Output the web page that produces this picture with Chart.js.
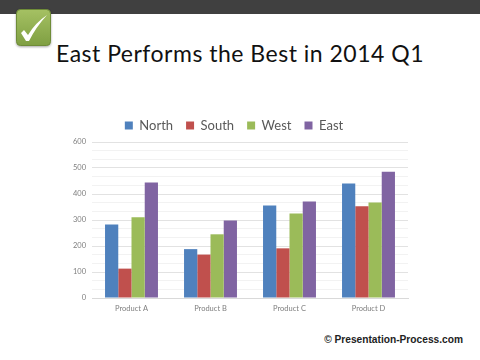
<!DOCTYPE html>
<html>
<head>
<meta charset="utf-8">
<style>
  html, body { margin: 0; padding: 0; background: #fff; }
  body { position: relative; width: 480px; height: 360px; overflow: hidden; }
  #topbar { position: absolute; left: 0; top: 0; width: 480px; height: 14px; background: #404040; }
  #check { position: absolute; left: 16px; top: 9px; width: 35px; height: 37px; filter: drop-shadow(0 1px 1px rgba(0,0,0,0.35)); }
  #title { position: absolute; left: 0; top: 39px; width: 480px; text-align: center; font: 23px Lato, sans-serif; color: #111; letter-spacing: 0.5px; white-space: nowrap; }
  #credit { position: absolute; right: 17px; top: 334px; font: bold 10.2px "Liberation Sans", sans-serif; color: #222; white-space: nowrap; }
  #wrap { position: absolute; left: 60px; top: 106px; width: 360px; height: 216px; }
</style>
</head>
<body>
<div id="topbar"></div>
<svg id="check" viewBox="0 0 35 37">
  <defs>
    <linearGradient id="g" x1="0" y1="0" x2="0" y2="1">
      <stop offset="0" stop-color="#a5c163"/>
      <stop offset="1" stop-color="#7f9f42"/>
    </linearGradient>
  </defs>
  <rect x="0.5" y="0.5" width="34" height="36" rx="4" fill="url(#g)" stroke="#6f8c38"/>
  <path d="M5 24 L8 21 L12 26 Q19 14 31 6 Q20 18 13 32 L10 32 Z" fill="#fff"/>
</svg>
<div id="title">East Performs the Best in 2014 Q1</div>
<div id="wrap"><canvas id="chart" width="360" height="216"></canvas></div>
<div id="credit">© Presentation-Process.com</div>

<script src="https://cdn.jsdelivr.net/npm/chart.js@4"></script>
<script>
const categories = ['Product A', 'Product B', 'Product C', 'Product D'];
const north = [283, 188, 356, 440];
const south = [113, 167, 191, 353];
const west = [311, 245, 325, 367];
const east = [444, 298, 371, 486];

const labelGrey = '#7f7f7f';

const ctx = document.getElementById('chart').getContext('2d');
new Chart(ctx, {
    type: 'bar',
    data: {
        labels: categories,
        datasets: [
            { label: 'North', data: north, backgroundColor: '#4f81bd' },
            { label: 'South', data: south, backgroundColor: '#c0504d' },
            { label: 'West', data: west, backgroundColor: '#9bbb59' },
            { label: 'East', data: east, backgroundColor: '#8064a2' }
        ]
    },
    options: {
        responsive: false,
        animation: false,
        layout: { padding: { left: 0, right: 12, top: 0, bottom: 0 } },
        datasets: { bar: { categoryPercentage: 0.67, barPercentage: 1 } },
        plugins: {
            tooltip: { enabled: false },
            legend: {
                position: 'top',
                labels: {
                    boxWidth: 8,
                    boxHeight: 8,
                    padding: 13,
                    color: '#595959',
                    font: { family: 'Lato', size: 13 }
                }
            }
        },
        scales: {
            x: {
                grid: { display: false, drawTicks: false },
                border: { color: '#d9d9d9' },
                afterFit: (axis) => { axis.height = 24; },
                ticks: { color: labelGrey, padding: 6, font: { family: 'Lato', size: 7.5 } }
            },
            y: {
                min: 0,
                max: 600,
                afterFit: (axis) => { axis.width = 32; },
                border: { display: false },
                grid: {
                    tickLength: 0,
                    color: (c) => c.tick.major ? '#e2e2e2' : '#f2f2f2'
                },
                ticks: {
                    stepSize: 33.3333,
                    padding: 6,
                    major: { enabled: true },
                    color: labelGrey,
                    font: { family: 'Lato', size: 7.5 },
                    autoSkip: false,
                    callback: (v) => {
                        const r = Math.round(v);
                        return r % 100 === 0 ? r : '';
                    }
                },
                afterBuildTicks: (axis) => {
                    axis.ticks.forEach(t => { t.major = Math.round(t.value) % 100 === 0; });
                }
            }
        }
    }
});
</script>
</body>
</html>
